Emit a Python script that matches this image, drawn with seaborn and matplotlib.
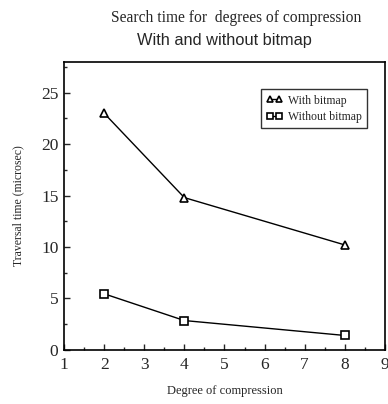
import pandas as pd
import matplotlib
matplotlib.use('Agg')
import matplotlib.pyplot as plt
from matplotlib.ticker import MultipleLocator
import seaborn as sns

# 数据
compression = [2, 4, 8]
with_bitmap = [23.0, 14.8, 10.2]
without_bitmap = [5.45, 2.85, 1.4]
series_names = ['With bitmap', 'Without bitmap']


def build_frame():
    rows = []
    for name, vals in zip(series_names, [with_bitmap, without_bitmap]):
        for x, y in zip(compression, vals):
            rows.append({'Degree': x, 'Time': y, 'Series': name})
    return pd.DataFrame(rows)


def main():
    sns.set_style('ticks')
    plt.rcParams['font.family'] = ['Liberation Serif', 'DejaVu Serif']
    plt.rcParams['xtick.direction'] = 'in'
    plt.rcParams['ytick.direction'] = 'in'

    df = build_frame()
    fig = plt.figure(figsize=(3.88, 4.04), dpi=100)
    ax = fig.add_axes([0.165, 0.134, 0.827, 0.713])

    sns.lineplot(data=df, x='Degree', y='Time', hue='Series', style='Series',
                 markers={'With bitmap': '^', 'Without bitmap': 's'},
                 dashes=False, palette=['black', 'black'], ax=ax,
                 markersize=6, markerfacecolor='white', markeredgecolor='black',
                 markeredgewidth=1.2, linewidth=1.0)

    ax.set_xlim(1, 9)
    ax.set_ylim(0, 28)
    ax.xaxis.set_major_locator(MultipleLocator(1))
    ax.xaxis.set_minor_locator(MultipleLocator(0.5))
    ax.yaxis.set_major_locator(MultipleLocator(5))
    ax.yaxis.set_minor_locator(MultipleLocator(2.5))
    ax.tick_params(which='major', length=4, width=1, labelsize=12.5)
    ax.tick_params(axis='x', which='major', pad=5)
    ax.tick_params(axis='y', which='major', pad=4)
    ax.tick_params(which='minor', length=2.5, width=1)
    for sp in ax.spines.values():
        sp.set_linewidth(1.2)
        sp.set_color('black')

    ax.set_xlabel('Degree of compression', fontsize=9, labelpad=9)
    ax.set_ylabel('Traversal time (microsec)', fontsize=8.5, labelpad=12)

    leg = ax.legend(loc='upper right', bbox_to_anchor=(0.962, 0.925), fontsize=8.5,
                    numpoints=2, handlelength=1.4, handletextpad=0.4,
                    fancybox=False, frameon=True, borderpad=0.45, labelspacing=0.35)
    leg.get_frame().set_edgecolor('black')
    leg.get_frame().set_linewidth(1.0)
    for h in leg.legend_handles:
        h.set_markerfacecolor('white')
        h.set_markeredgecolor('black')
        h.set_markersize(5)
        h.set_markeredgewidth(1.2)

    fig.text(0.61, 0.955, 'Search time for  degrees of compression',
             ha='center', va='center', fontsize=11.2)
    fig.text(0.579, 0.899, 'With and without bitmap', ha='center', va='center',
             fontsize=11.8, family=['Liberation Sans', 'DejaVu Sans'])

    fig.savefig('out.png', dpi=100)


if __name__ == "__main__":
    main()
